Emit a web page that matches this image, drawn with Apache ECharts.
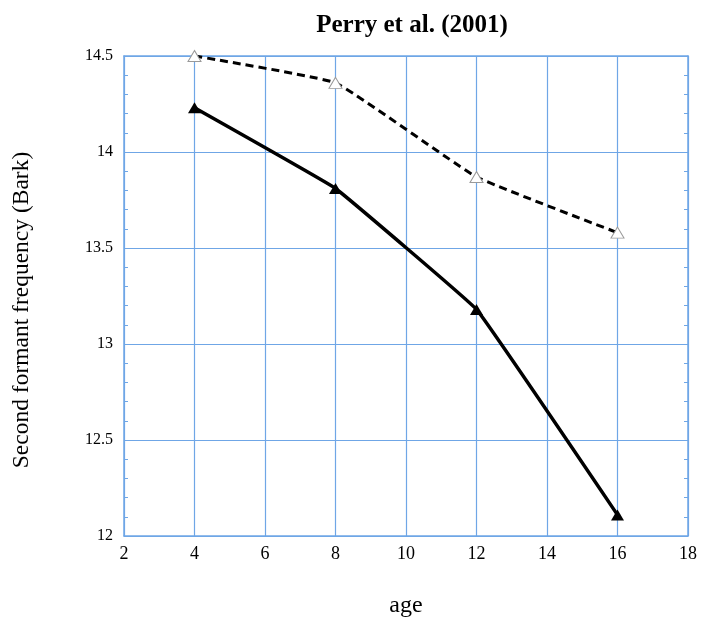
<!DOCTYPE html>
<html><head><meta charset="utf-8">
<script src="https://cdn.jsdelivr.net/npm/echarts@6/dist/echarts.min.js"></script>
<style>html,body{margin:0;padding:0;background:#fff}#c{width:701px;height:625px}</style>
</head><body><div id="c"></div>
<script>
const ages = [4, 8, 12, 16];
const solidSeries = [14.23, 13.81, 13.18, 12.11];
const dashedSeries = [14.5, 14.36, 13.87, 13.58];
const xTicks = [2, 4, 6, 8, 10, 12, 14, 16, 18];
const yTicks = [12, 12.5, 13, 13.5, 14, 14.5];

const gridColor = '#6fa6e6';
const chart = echarts.init(document.getElementById('c'));
const serif = '"Liberation Serif", "DejaVu Serif", serif';
chart.setOption({
  animation: false,
  title: {
    text: 'Perry et al. (2001)', left: 407, top: 8, textAlign: 'center',
    textStyle: {fontFamily: serif, fontWeight: 'bold', fontSize: 25, color: '#000'}
  },
  grid: {left: 124, right: 13, top: 56, bottom: 89},
  xAxis: [{
    type: 'value', min: xTicks[0], max: xTicks[xTicks.length-1], interval: 2,
    name: 'age', nameLocation: 'middle', nameGap: 58,
    nameTextStyle: {fontFamily: serif, fontSize: 24, color: '#000'},
    axisLine: {lineStyle: {color: gridColor, width: 1.5}},
    axisTick: {show: false},
    axisLabel: {fontFamily: serif, fontSize: 18, color: '#000', margin: 9},
    splitLine: {show: true, lineStyle: {color: gridColor, width: 1.2}}
  }, {
    type: 'value', position: 'top', min: 2, max: 18, interval: 2,
    axisLine: {show: true, lineStyle: {color: gridColor, width: 1.5}},
    axisTick: {show: false}, axisLabel: {show: false}, splitLine: {show: false}
  }],
  yAxis: [{
    type: 'value', min: yTicks[0], max: yTicks[yTicks.length-1], interval: 0.5,
    name: 'Second formant frequency (Bark)', nameLocation: 'middle', nameGap: 90,
    nameTextStyle: {fontFamily: serif, fontSize: 23.5, color: '#000', padding: [0, 28, 0, 0]},
    axisLine: {show: true, lineStyle: {color: gridColor, width: 1.5}},
    axisTick: {show: true, inside: true, length: 5, lineStyle: {color: gridColor}},
    minorTick: {show: true, splitNumber: 5, length: 4, lineStyle: {color: gridColor}},
    axisLabel: {fontFamily: serif, fontSize: 16, color: '#000', margin: 11},
    splitLine: {show: true, lineStyle: {color: gridColor, width: 1.2}}
  }, {
    type: 'value', position: 'right', min: 12, max: 14.5, interval: 0.5,
    axisLine: {show: true, lineStyle: {color: gridColor, width: 1.5}},
    axisTick: {show: true, inside: true, length: 5, lineStyle: {color: gridColor}},
    minorTick: {show: true, splitNumber: 5, length: 4, lineStyle: {color: gridColor}},
    axisLabel: {show: false}, splitLine: {show: false}
  }],
  series: [{
    type: 'line', data: ages.map((a, i) => [a, dashedSeries[i]]),
    smooth: 0.1, symbol: 'triangle', symbolSize: [13, 11],
    itemStyle: {color: '#fff', borderColor: '#999', borderWidth: 1},
    lineStyle: {color: '#000', width: 3, type: [8, 5]}, z: 3
  }, {
    type: 'line', data: ages.map((a, i) => [a, solidSeries[i]]),
    smooth: 0.06, symbol: 'triangle', symbolSize: [13, 11],
    itemStyle: {color: '#000', borderColor: '#000', borderWidth: 0},
    lineStyle: {color: '#000', width: 3.5}, z: 4
  }]
});
</script></body></html>
